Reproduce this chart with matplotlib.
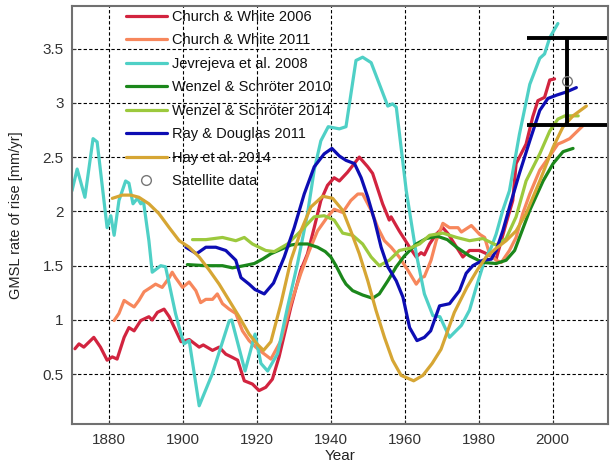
import matplotlib
matplotlib.use("Agg")
import matplotlib.pyplot as plt
import numpy as np

plt.rcParams['font.family'] = ['Liberation Sans', 'DejaVu Sans']

# Church & White 2006
cw06_yr = [1870.8, 1871.9, 1873.2, 1875.9, 1877.7, 1879.5, 1880.9, 1882.2, 1884.1, 1885.4,
           1886.8, 1888.6, 1890.8, 1891.7, 1893.1, 1894.9, 1896.3, 1899.5, 1901.7, 1904.4,
           1905.5, 1908.0, 1909.8, 1911.6, 1913.4, 1914.8, 1916.6, 1918.8, 1920.6, 1922.4,
           1924.2, 1926.0, 1929.2, 1931.9, 1933.7, 1935.5, 1937.3, 1939.1, 1940.9, 1942.3,
           1944.5, 1947.7, 1950.0, 1951.3, 1954.0, 1955.8, 1956.3, 1958.5, 1961.3, 1963.1,
           1964.4, 1965.3, 1966.7, 1968.5, 1970.3, 1971.8, 1974.0, 1975.7, 1977.5, 1980.2,
           1981.5, 1983.4, 1984.7, 1987.4, 1989.2, 1990.1, 1992.8, 1994.6, 1996.0, 1997.8,
           1999.2, 2000.5]
cw06_val = [0.735, 0.78, 0.75, 0.84, 0.75, 0.63, 0.66, 0.64, 0.84, 0.93,
            0.90, 0.995, 1.03, 1.00, 1.07, 1.10, 1.03, 0.80, 0.82, 0.75,
            0.77, 0.72, 0.75, 0.685, 0.655, 0.63, 0.44, 0.41, 0.35, 0.38,
            0.455, 0.66, 1.12, 1.46, 1.61, 1.85, 2.10, 2.24, 2.31, 2.28,
            2.36, 2.50, 2.41, 2.35, 2.07, 1.92, 1.95, 1.82, 1.67, 1.58,
            1.62, 1.60, 1.70, 1.79, 1.85, 1.79, 1.67, 1.58, 1.64, 1.64,
            1.62, 1.59, 1.56, 1.89, 2.10, 2.44, 2.62, 2.87, 3.02, 3.05,
            3.21, 3.22]

# Church & White 2011
cw11_yr = [1881.4, 1882.7, 1884.1, 1885.4, 1886.8, 1888.1, 1889.5, 1891.3, 1892.6, 1894.4,
           1896.3, 1897.1, 1898.0, 1899.9, 1901.7, 1903.5, 1904.8, 1906.2, 1908.0, 1909.3,
           1910.7, 1912.5, 1914.3, 1916.1, 1917.9, 1919.7, 1921.5, 1923.8, 1926.5, 1929.2,
           1931.9, 1934.2, 1936.4, 1939.1, 1940.9, 1943.2, 1945.4, 1947.3, 1948.6, 1950.9,
           1952.7, 1954.5, 1956.3, 1958.5, 1960.8, 1963.1, 1964.4, 1965.3, 1967.1, 1968.5,
           1970.3, 1972.1, 1974.4, 1975.3, 1978.0, 1980.2, 1981.6, 1982.9, 1984.7, 1986.1,
           1988.3, 1990.1, 1991.9, 1993.8, 1996.5, 1999.6, 2001.4, 2002.8, 2004.6, 2006.4,
           2008.2]
cw11_val = [0.995, 1.06, 1.18, 1.15, 1.12, 1.18, 1.26, 1.30, 1.33, 1.30,
            1.39, 1.44, 1.39, 1.30, 1.35, 1.27, 1.16, 1.19, 1.19, 1.24,
            1.15, 1.10, 1.06, 0.90, 0.81, 0.75, 0.70, 0.64, 0.81, 1.15,
            1.43, 1.64, 1.82, 1.95, 2.02, 1.99, 2.10, 2.16, 2.16, 2.01,
            1.85, 1.73, 1.67, 1.58, 1.46, 1.33, 1.39, 1.40, 1.55, 1.73,
            1.89, 1.85, 1.85, 1.81, 1.87, 1.79, 1.76, 1.61, 1.55, 1.53,
            1.64, 1.76, 1.98, 2.16, 2.38, 2.53, 2.62, 2.64, 2.67, 2.73,
            2.79]

# Jevrejeva et al. 2008
jev_yr = [1870.0, 1871.4, 1873.5, 1875.7, 1876.8, 1879.5, 1880.5, 1881.4, 1882.7, 1884.5,
          1885.4, 1886.5, 1887.7, 1888.6, 1889.3, 1890.8, 1891.7, 1894.0, 1895.3, 1898.0,
          1899.4, 1900.3, 1901.7, 1904.4, 1907.9, 1912.5, 1913.2, 1916.8, 1919.5, 1921.1,
          1922.9, 1925.6, 1928.3, 1931.0, 1933.7, 1935.5, 1937.3, 1939.3, 1942.3, 1944.1,
          1946.8, 1948.6, 1950.9, 1955.4, 1956.7, 1957.7, 1960.4, 1963.1, 1965.3, 1967.6,
          1969.5, 1972.1, 1975.3, 1977.5, 1979.3, 1981.6, 1983.4, 1984.7, 1986.5, 1988.3,
          1991.0, 1993.8, 1996.5, 1997.8, 1999.2, 2001.4]
jev_val = [2.19, 2.39, 2.13, 2.67, 2.64, 1.85, 1.96, 1.78, 2.10, 2.28,
           2.26, 2.07, 2.12, 2.07, 2.10, 1.73, 1.44, 1.50, 1.49, 1.06,
           0.88, 0.78, 0.81, 0.21, 0.50, 0.99, 1.00, 0.53, 0.87, 0.60,
           0.53, 0.69, 1.12, 1.52, 1.98, 2.38, 2.65, 2.78, 2.76, 2.78,
           3.39, 3.42, 3.37, 2.97, 2.99, 2.96, 2.19, 1.61, 1.24, 1.04,
           1.03, 0.84, 0.95, 1.09, 1.30, 1.55, 1.67, 1.79, 2.01, 2.19,
           2.71, 3.17, 3.41, 3.45, 3.60, 3.73]

# Wenzel & Schroeter 2010
ws10_yr = [1901.2, 1906.2, 1910.7, 1913.4, 1916.5, 1919.3, 1921.5, 1923.8, 1926.5, 1929.2,
           1931.0, 1933.7, 1936.4, 1938.5, 1940.0, 1941.4, 1943.2, 1944.1, 1945.9, 1948.6,
           1951.3, 1953.1, 1955.4, 1957.7, 1959.9, 1963.1, 1965.8, 1968.9, 1971.5, 1974.0,
           1977.5, 1981.1, 1984.7, 1987.4, 1989.7, 1993.8, 1997.4, 2000.1, 2002.8, 2005.5]
ws10_val = [1.51, 1.50, 1.50, 1.48, 1.50, 1.52, 1.56, 1.61, 1.65, 1.69,
            1.70, 1.70, 1.67, 1.63, 1.58, 1.50, 1.38, 1.33, 1.27, 1.23,
            1.20, 1.24, 1.36, 1.49, 1.59, 1.70, 1.75, 1.77, 1.74, 1.67,
            1.59, 1.53, 1.52, 1.55, 1.64, 2.01, 2.28, 2.44, 2.55, 2.58]

# Wenzel & Schroeter 2014
ws14_yr = [1902.6, 1906.2, 1910.7, 1914.3, 1916.6, 1918.8, 1922.4, 1924.7, 1928.3, 1931.9,
           1935.5, 1938.2, 1940.9, 1943.2, 1945.9, 1948.6, 1950.9, 1953.1, 1955.8, 1958.5,
           1961.3, 1964.0, 1966.7, 1970.3, 1974.0, 1977.5, 1981.1, 1982.9, 1984.7, 1987.4,
           1990.1, 1992.8, 1996.5, 1999.2, 2001.4, 2003.3, 2005.1, 2006.9]
ws14_val = [1.74, 1.74, 1.76, 1.73, 1.76, 1.70, 1.64, 1.63, 1.70, 1.82,
            1.95, 1.96, 1.92, 1.80, 1.78, 1.70, 1.58, 1.50, 1.55, 1.64,
            1.66, 1.70, 1.78, 1.80, 1.76, 1.73, 1.75, 1.72, 1.69, 1.75,
            1.95, 2.28, 2.53, 2.74, 2.85, 2.88, 2.88, 2.88]

# Ray & Douglas 2011
rd_yr = [1900.8, 1903.7, 1906.2, 1908.9, 1911.6, 1914.3, 1915.7, 1917.9, 1919.5, 1922.0,
         1924.5, 1927.4, 1930.1, 1932.8, 1935.5, 1938.2, 1940.3, 1942.3, 1944.1, 1946.4,
         1948.2, 1950.0, 1951.8, 1953.6, 1955.4, 1957.7, 1959.5, 1961.3, 1963.3, 1965.3,
         1967.0, 1969.4, 1972.1, 1974.8, 1976.6, 1978.4, 1981.1, 1983.4, 1984.7, 1986.5,
         1988.5, 1991.0, 1993.8, 1996.5, 1998.7, 2001.0, 2003.7, 2006.4]
rd_val = [1.67, 1.61, 1.67, 1.67, 1.64, 1.55, 1.39, 1.33, 1.28, 1.24,
          1.34, 1.58, 1.85, 2.16, 2.41, 2.53, 2.58, 2.51, 2.47, 2.44,
          2.31, 2.13, 1.92, 1.67, 1.49, 1.36, 1.21, 0.93, 0.81, 0.84,
          0.90, 1.13, 1.15, 1.27, 1.43, 1.50, 1.55, 1.56, 1.64, 1.82,
          2.06, 2.35, 2.65, 2.93, 3.04, 3.07, 3.10, 3.14]

# Hay et al. 2014
hay_yr = [1880.9, 1883.6, 1885.9, 1888.1, 1890.8, 1893.5, 1896.3, 1899.0, 1901.7, 1904.4,
          1907.1, 1909.8, 1912.5, 1915.2, 1917.9, 1920.0, 1921.8, 1923.8, 1926.5, 1929.2,
          1931.9, 1934.6, 1937.8, 1940.5, 1943.2, 1945.4, 1947.7, 1950.0, 1952.2, 1954.5,
          1956.7, 1959.0, 1962.4, 1964.9, 1967.4, 1969.8, 1973.4, 1976.8, 1979.6, 1982.0,
          1984.7, 1987.4, 1990.1, 1992.8, 1996.5, 2000.1, 2002.8, 2005.5, 2009.1]
hay_val = [2.12, 2.15, 2.15, 2.13, 2.07, 1.98, 1.85, 1.73, 1.67, 1.58,
           1.46, 1.33, 1.18, 1.03, 0.87, 0.78, 0.72, 0.80, 1.15, 1.55,
           1.82, 2.04, 2.14, 2.12, 2.01, 1.82, 1.61, 1.36, 1.09, 0.84,
           0.63, 0.49, 0.44, 0.49, 0.60, 0.73, 1.07, 1.30, 1.46, 1.58,
           1.66, 1.73, 1.82, 1.98, 2.28, 2.59, 2.78, 2.88, 2.97]

# Satellite data
sat_yr = [2004.0]
sat_val = [3.2]
sat_err = [0.4]

series = [
    (cw06_yr, cw06_val, '#d2243f', 'Church & White 2006'),
    (cw11_yr, cw11_val, '#f7875c', 'Church & White 2011'),
    (jev_yr, jev_val, '#4fd0c6', 'Jevrejeva et al. 2008'),
    (ws10_yr, ws10_val, '#1b871b', 'Wenzel & Schröter 2010'),
    (ws14_yr, ws14_val, '#9cc93d', 'Wenzel & Schröter 2014'),
    (rd_yr, rd_val, '#0d0db3', 'Ray & Douglas 2011'),
    (hay_yr, hay_val, '#d6a634', 'Hay et al. 2014'),
]

fig = plt.figure(figsize=(6.1, 4.74), dpi=100)
ax = fig.add_axes([0.118, 0.105, 0.879, 0.882])

for yr, val, col, lab in series:
    ax.plot(yr, val, color=col, lw=2.3, label=lab, solid_capstyle='round')

ax.errorbar(sat_yr, sat_val, yerr=sat_err, fmt='none', ecolor='black',
            elinewidth=2.8, capsize=29, capthick=2.8, zorder=5)
ax.plot(sat_yr, sat_val, 'o', mfc='none', mec='#777777', ms=7, mew=1.0,
        ls='none', label='Satellite data', zorder=6)

ax.set_xlim(1870, 2015)
ax.set_ylim(0.04, 3.89)
ax.set_xticks([1880, 1900, 1920, 1940, 1960, 1980, 2000])
ax.set_yticks([0.5, 1, 1.5, 2, 2.5, 3, 3.5])
ax.set_yticklabels(['0.5', '1', '1.5', '2', '2.5', '3', '3.5'])
ax.grid(True, color='black', ls=(0, (3, 2)), lw=0.8)
ax.tick_params(direction='in', length=3, labelsize=11, colors='#333333', pad=6)
for sp in ax.spines.values():
    sp.set_color('#707070')
    sp.set_linewidth(1.5)

ax.set_xlabel('Year', fontsize=11, color='#222222', labelpad=2)
ax.set_ylabel('GMSL rate of rise [mm/yr]', fontsize=10.5, color='#222222', labelpad=14)

leg = ax.legend(loc='upper left', bbox_to_anchor=(0.094, 1.0), frameon=False,
                fontsize=10.5, handlelength=2.8, handletextpad=0.35,
                labelspacing=0.65, borderaxespad=0.1, borderpad=0.15)
for t in leg.get_texts():
    t.set_color('#111111')

fig.savefig('out.png', dpi=100)
